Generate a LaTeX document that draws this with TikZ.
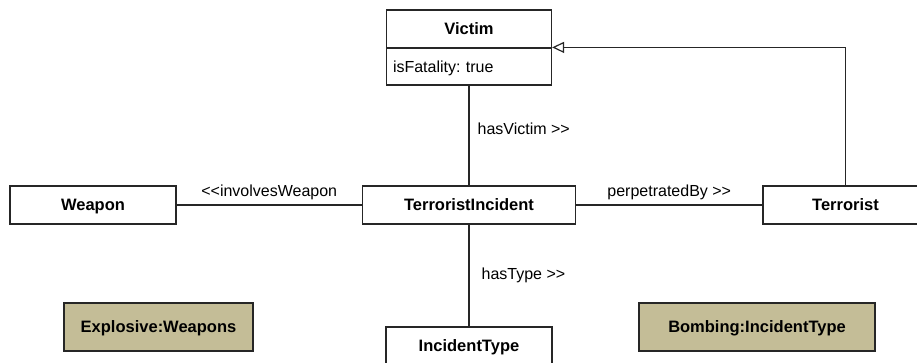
\documentclass[tikz,border=0pt]{standalone}
\usepackage{fontspec}
\setmainfont{Liberation Sans}
\usepackage{tikz}
\usetikzlibrary{arrows.meta}
\frenchspacing
\definecolor{khaki}{RGB}{196,189,151}
\tikzstyle{umlclass}=[rectangle,draw=black!85,fill=white,line width=1.2pt,minimum height=38pt,inner sep=0pt,text height=11.8pt,text depth=0pt,font=\fontsize{16.5}{19}\selectfont\bfseries]
\tikzstyle{umlattr}=[rectangle,draw=black!85,fill=white,line width=1.2pt,minimum height=37pt,inner sep=0pt,text height=11.5pt,text depth=0pt,text width=152pt,align=left,font=\fontsize{16}{19}\selectfont]
\tikzstyle{umlobject}=[umlclass,fill=khaki,minimum height=48pt]
\tikzstyle{assoc}=[-,draw=black!85,line width=1.2pt]
\tikzstyle{inherit}=[-{Triangle[open,length=12pt,width=11pt]},draw=black!85,line width=1.2pt]
\tikzstyle{rolename}=[inner sep=2pt,font=\fontsize{16}{19}\selectfont]
\pgfdeclarelayer{edgelayer}
\pgfdeclarelayer{nodelayer}
\pgfsetlayers{edgelayer,nodelayer,main}
\begin{document}
\begin{tikzpicture}[x=1pt,y=-1pt]
	\clip (0,0) rectangle (917,363);
	\begin{pgfonlayer}{nodelayer}
		\node [style=umlclass,minimum width=165pt] (victim) at (469, 29) {Victim};
		\node [style=umlattr,minimum width=165pt] (victimattr) at (469, 66.5) {isFatality: true};
		\node [style=umlclass,minimum width=166pt] (weapon) at (93, 205) {Weapon};
		\node [style=umlclass,minimum width=213pt] (incident) at (469, 205) {TerroristIncident};
		\node [style=umlclass,minimum width=165pt] (terrorist) at (845.5, 205) {Terrorist};
		\node [style=umlclass,minimum width=166pt] (incidenttype) at (469, 346) {IncidentType};
		\node [style=umlobject,minimum width=189pt] (explosive) at (158.5, 327) {Explosive:Weapons};
		\node [style=umlobject,minimum width=236pt] (bombing) at (757, 327) {Bombing:IncidentType};
	\end{pgfonlayer}
	\begin{pgfonlayer}{edgelayer}
		\draw [style=assoc] (incident) to node [style=rolename,right=6pt,pos=0.57] {hasVictim {>}{>}} (victimattr);
		\draw [style=assoc] (weapon) to node [style=rolename,above=3pt] {{<}{<}involvesWeapon} (incident);
		\draw [style=assoc] (incident) to node [style=rolename,above=3pt] {perpetratedBy {>}{>}} (terrorist);
		\draw [style=assoc] (incident) to node [style=rolename,right=10pt,pos=0.5] {hasType {>}{>}} (incidenttype);
		\draw [style=inherit] (terrorist.north) |- (victimattr.north east);
	\end{pgfonlayer}
\end{tikzpicture}
\end{document}
